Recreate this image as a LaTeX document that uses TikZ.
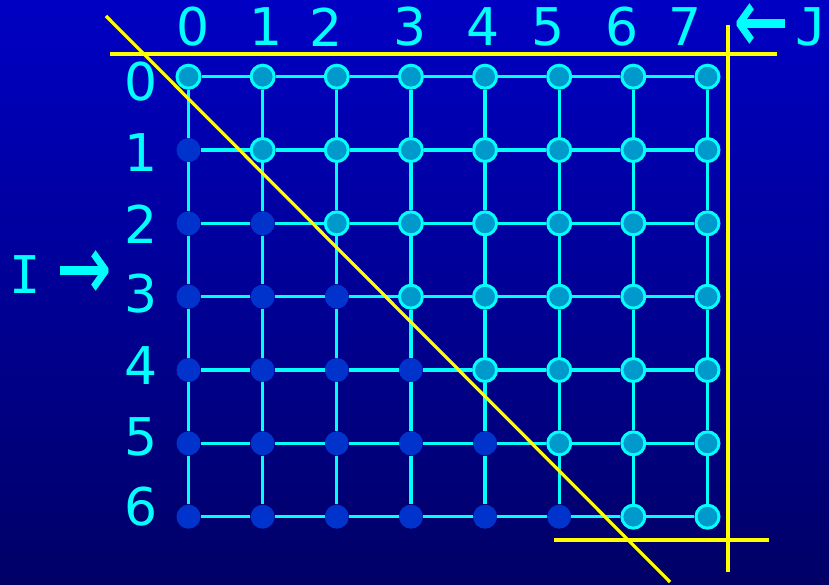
\documentclass[tikz,border=0pt]{standalone}
\usepackage{fontspec}
\usepackage{graphicx}
\setmainfont{DejaVu Sans}
\newfontfamily\monof{DejaVu Sans Mono}
\newfontfamily\arrowf[FakeBold=1.2]{DejaVu Sans}
\definecolor{tealc}{HTML}{0099CC}
\definecolor{cyanc}{HTML}{00FFFF}
\definecolor{lowc}{HTML}{0033CC}
\definecolor{yellowc}{HTML}{FFFF00}
\definecolor{bgtop}{HTML}{0000C4}
\definecolor{bgbot}{HTML}{000066}
\newcommand{\bigarrow}[1]{\scalebox{1.25}[1.75]{\arrowf #1}}
\begin{document}
\begin{tikzpicture}[x=1pt,y=-1pt,
  up/.style={circle,fill=tealc,draw=cyanc,line width=3pt,inner sep=0pt,minimum size=23pt},
  lo/.style={circle,fill=lowc,inner sep=0pt,minimum size=24pt},
  gridline/.style={draw=cyanc,line width=3.2pt},
  yl/.style={draw=yellowc,line width=3.2pt},
  lab/.style={text=cyanc,font=\fontsize{52}{52}\selectfont,inner sep=0pt}]
\shade[top color=bgtop,bottom color=bgbot] (0,0) rectangle (829,585);
\useasboundingbox (0,0) rectangle (829,585);
\foreach \i in {0,...,6} {
  \foreach \j in {0,...,7} {
    \pgfmathsetmacro\xx{188.5+74.14*\j}
    \pgfmathsetmacro\yy{76.7+73.33*\i}
    \ifnum\j<\i
      \node[lo] (n\i\j) at (\xx,\yy) {};
    \else
      \node[up] (n\i\j) at (\xx,\yy) {};
    \fi
  }
}
\foreach \i in {0,...,6} {
  \foreach \j in {0,...,6} {
    \pgfmathtruncatemacro\jj{\j+1}
    \draw[gridline] (n\i\j) -- (n\i\jj);
  }
}
\foreach \i in {0,...,5} {
  \foreach \j in {0,...,7} {
    \pgfmathtruncatemacro\ii{\i+1}
    \draw[gridline] (n\i\j) -- (n\ii\j);
  }
}
% column labels
\node[lab] (c0) at (193,27) {0};
\node[lab] (c1) at (266,27) {1};
\node[lab] (c2) at (326,27) {2};
\node[lab] (c3) at (410,27) {3};
\node[lab] (c4) at (483,27) {4};
\node[lab] (c5) at (548,27) {5};
\node[lab] (c6) at (622,27) {6};
\node[lab] (c7) at (685,27) {7};
\node[lab] (larr) at (761,28) {\bigarrow{←}};
\node[lab] (jl) at (811,27) {\monof J};
% row labels
\node[lab] (r0) at (141,82) {0};
\node[lab] (r1) at (141,153) {1};
\node[lab] (r2) at (141,224) {2};
\node[lab] (r3) at (141,294) {3};
\node[lab] (r4) at (141,366) {4};
\node[lab] (r5) at (141,437) {5};
\node[lab] (r6) at (141,507) {6};
\node[lab] (il) at (25,275) {\monof I};
\node[lab] (rarr) at (84,275) {\bigarrow{→}};
% yellow lines
\coordinate (d1) at (106,16);
\coordinate (d2) at (670,582);
\coordinate (t1) at (110,54);
\coordinate (t2) at (777,54);
\coordinate (v1) at (728,25);
\coordinate (v2) at (728,572);
\coordinate (b1) at (554,540);
\coordinate (b2) at (769,540);
\draw[yl] (t1) -- (t2);
\draw[yl] (v1) -- (v2);
\draw[yl] (b1) -- (b2);
\draw[yl] (d1) -- (d2);
\end{tikzpicture}
\end{document}
